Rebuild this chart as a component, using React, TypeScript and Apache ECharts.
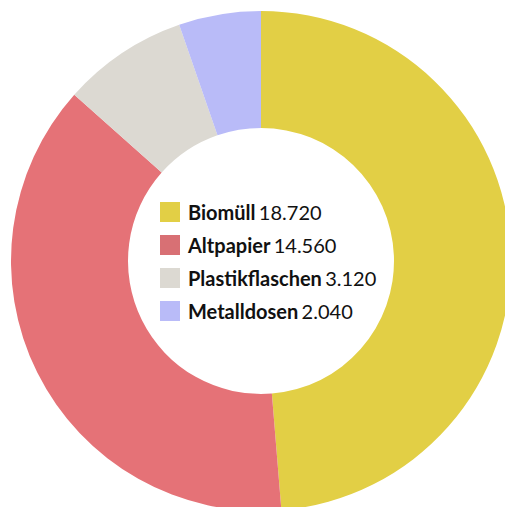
import React, { useEffect, useRef } from "react";
import * as echarts from "echarts";

const categories = ["Biomüll", "Altpapier", "Plastikflaschen", "Metalldosen"];
const values = [18720, 14560, 3120, 2040];
const colors = ["#e2cf45", "#e57277", "#dcd9d2", "#b9bbf8"];
const legendColors = ["#e2cf45", "#d87074", "#dcd9d2", "#b9bbf8"];

const fmt = (v: number) => v.toLocaleString("de-DE");

export default function App() {
  const ref = useRef<HTMLDivElement>(null);
  useEffect(() => {
    if (!ref.current) return;
    const chart = echarts.init(ref.current, undefined, { renderer: "svg" });
    chart.setOption({
      animation: false,
      legend: {
        orient: "vertical",
        left: 160,
        top: 202,
        padding: 0,
        itemWidth: 20,
        itemHeight: 20,
        itemGap: 13,
        icon: "rect",
        selectedMode: false,
        data: categories.map((c, i) => ({ name: c, itemStyle: { color: legendColors[i] } })),
        formatter: (name: string) => {
          const i = categories.indexOf(name);
          return `{b|${name}} {v|${fmt(values[i])}}`;
        },
        textStyle: {
          padding: [0, 0, 0, 3],
          rich: {
            b: { fontFamily: "Lato", fontWeight: "bold", fontSize: 20, lineHeight: 20, color: "#111" },
            v: { fontFamily: "Lato", fontWeight: "normal", fontSize: 20, lineHeight: 20, color: "#111" },
          },
        },
      },
      series: [
        {
          type: "pie",
          center: [261, 261],
          radius: [133, 250],
          startAngle: 90,
          clockwise: true,
          label: { show: false },
          labelLine: { show: false },
          emphasis: { disabled: true },
          itemStyle: { borderWidth: 0 },
          data: categories.map((c, i) => ({
            name: c,
            value: values[i],
            itemStyle: { color: colors[i] },
          })),
        },
      ],
    });
    return () => chart.dispose();
  }, []);
  return (
    <div
      ref={ref}
      style={{ position: "fixed", left: 0, top: 0, width: 505, height: 507, background: "#fff" }}
    />
  );
}
